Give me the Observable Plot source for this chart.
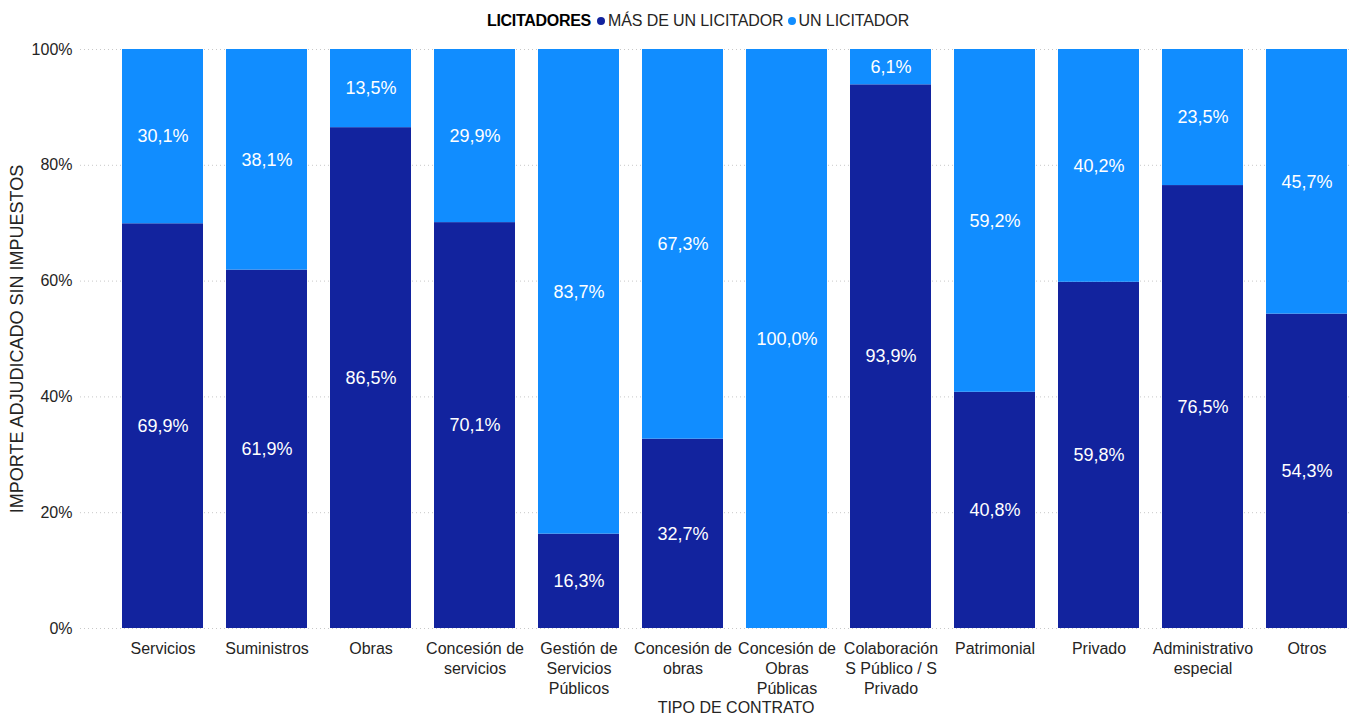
<!DOCTYPE html>
<html>
<head>
<meta charset="utf-8">
<script src="https://cdn.jsdelivr.net/npm/d3@7"></script>
<script src="https://cdn.jsdelivr.net/npm/@observablehq/plot@0.6"></script>
<style>
  html, body { margin: 0; padding: 0; background: #fff; }
  body { width: 1349px; height: 715px; overflow: hidden; font-family: "Liberation Sans", Arial, sans-serif; }
  #legend { position: relative; height: 38px; }
  #legend .inner { position: absolute; left: 487px; top: 12px; font-size: 16px; color: #252423; white-space: nowrap; display: flex; align-items: center; letter-spacing: -0.1px; }
  #legend b { font-weight: bold; color: #000; margin-right: 5px; letter-spacing: -0.3px; }
  #legend .dot { display: inline-block; width: 8px; height: 8px; border-radius: 50%; margin-right: 3px; margin-left: 1px; }
  #legend .item { display: inline-flex; align-items: center; margin-right: 3px; }
</style>
</head>
<body>
<div id="legend"><div class="inner"><b>LICITADORES</b></div></div>
<div id="chart"></div>
<script>
const categories = ["Servicios", "Suministros", "Obras", "Concesión de servicios", "Gestión de Servicios Públicos", "Concesión de obras", "Concesión de Obras Públicas", "Colaboración S Público / S Privado", "Patrimonial", "Privado", "Administrativo especial", "Otros"];
const tickLabels = ["Servicios", "Suministros", "Obras", "Concesión de\nservicios", "Gestión de\nServicios\nPúblicos", "Concesión de\nobras", "Concesión de\nObras\nPúblicas", "Colaboración\nS Público / S\nPrivado", "Patrimonial", "Privado", "Administrativo\nespecial", "Otros"];
const masDeUno = [69.9, 61.9, 86.5, 70.1, 16.3, 32.7, 0.0, 93.9, 40.8, 59.8, 76.5, 54.3];
const unLicitador = [30.1, 38.1, 13.5, 29.9, 83.7, 67.3, 100.0, 6.1, 59.2, 40.2, 23.5, 45.7];
const seriesNames = ["MÁS DE UN LICITADOR", "UN LICITADOR"];
const seriesColors = ["#12239E", "#118DFF"];
const yTicks = [0, 20, 40, 60, 80, 100];
const yTitle = "IMPORTE ADJUDICADO SIN IMPUESTOS";
const xTitle = "TIPO DE CONTRATO";

const data = [];
categories.forEach((c, i) => {
  data.push({cat: c, serie: seriesNames[0], value: masDeUno[i]});
  data.push({cat: c, serie: seriesNames[1], value: unLicitador[i]});
});
const fmt = v => v.toFixed(1).replace(".", ",") + "%";

// legend
const inner = document.querySelector("#legend .inner");
seriesNames.forEach((s, i) => {
  const span = document.createElement("span");
  span.className = "item";
  span.innerHTML = `<span class="dot" style="background:${seriesColors[i]}"></span>${s}`;
  inner.appendChild(span);
});

const tickMap = new Map(categories.map((c, i) => [c, tickLabels[i]]));

const chart = Plot.plot({
  width: 1349,
  height: 677,
  marginTop: 11,
  marginBottom: 87,
  marginLeft: 80,
  marginRight: 0,
  style: {fontFamily: "Liberation Sans, Arial, sans-serif", fontSize: "16px", color: "#252423", background: "#fff"},
  x: {domain: categories, range: [110.5, 1359.5], paddingInner: 0.22, paddingOuter: 0.11},
  y: {domain: [0, 100]},
  color: {domain: seriesNames, range: seriesColors},
  marks: [
    Plot.gridY(yTicks, {stroke: "#c8c8c8", strokeOpacity: 1, strokeDasharray: "1,3"}),
    Plot.barY(data, Plot.stackY({x: "cat", y: "value", fill: "serie", order: seriesNames})),
    Plot.text(data.filter(d => d.value > 0), Plot.stackY({x: "cat", y: "value", z: "serie", order: seriesNames, text: d => fmt(d.value), fill: "white", fontSize: 18})),
    Plot.axisY(yTicks, {tickSize: 0, tickPadding: 8, tickFormat: d => d + "%", fontSize: 16, label: null}),
    Plot.axisX({tickSize: 0, tickPadding: 11, tickFormat: d => tickMap.get(d), lineHeight: 1.25, fontSize: 16, label: null}),
    Plot.text([yTitle], {frameAnchor: "left", textAnchor: "middle", lineAnchor: "middle", rotate: -90, dx: -63, fontSize: 18, fill: "#252423", text: d => d}),
    Plot.text([xTitle], {frameAnchor: "bottom", lineAnchor: "middle", dx: 21, dy: 79, fontSize: 16, fill: "#252423", text: d => d})
  ]
});
document.getElementById("chart").appendChild(chart);
</script>
</body>
</html>
